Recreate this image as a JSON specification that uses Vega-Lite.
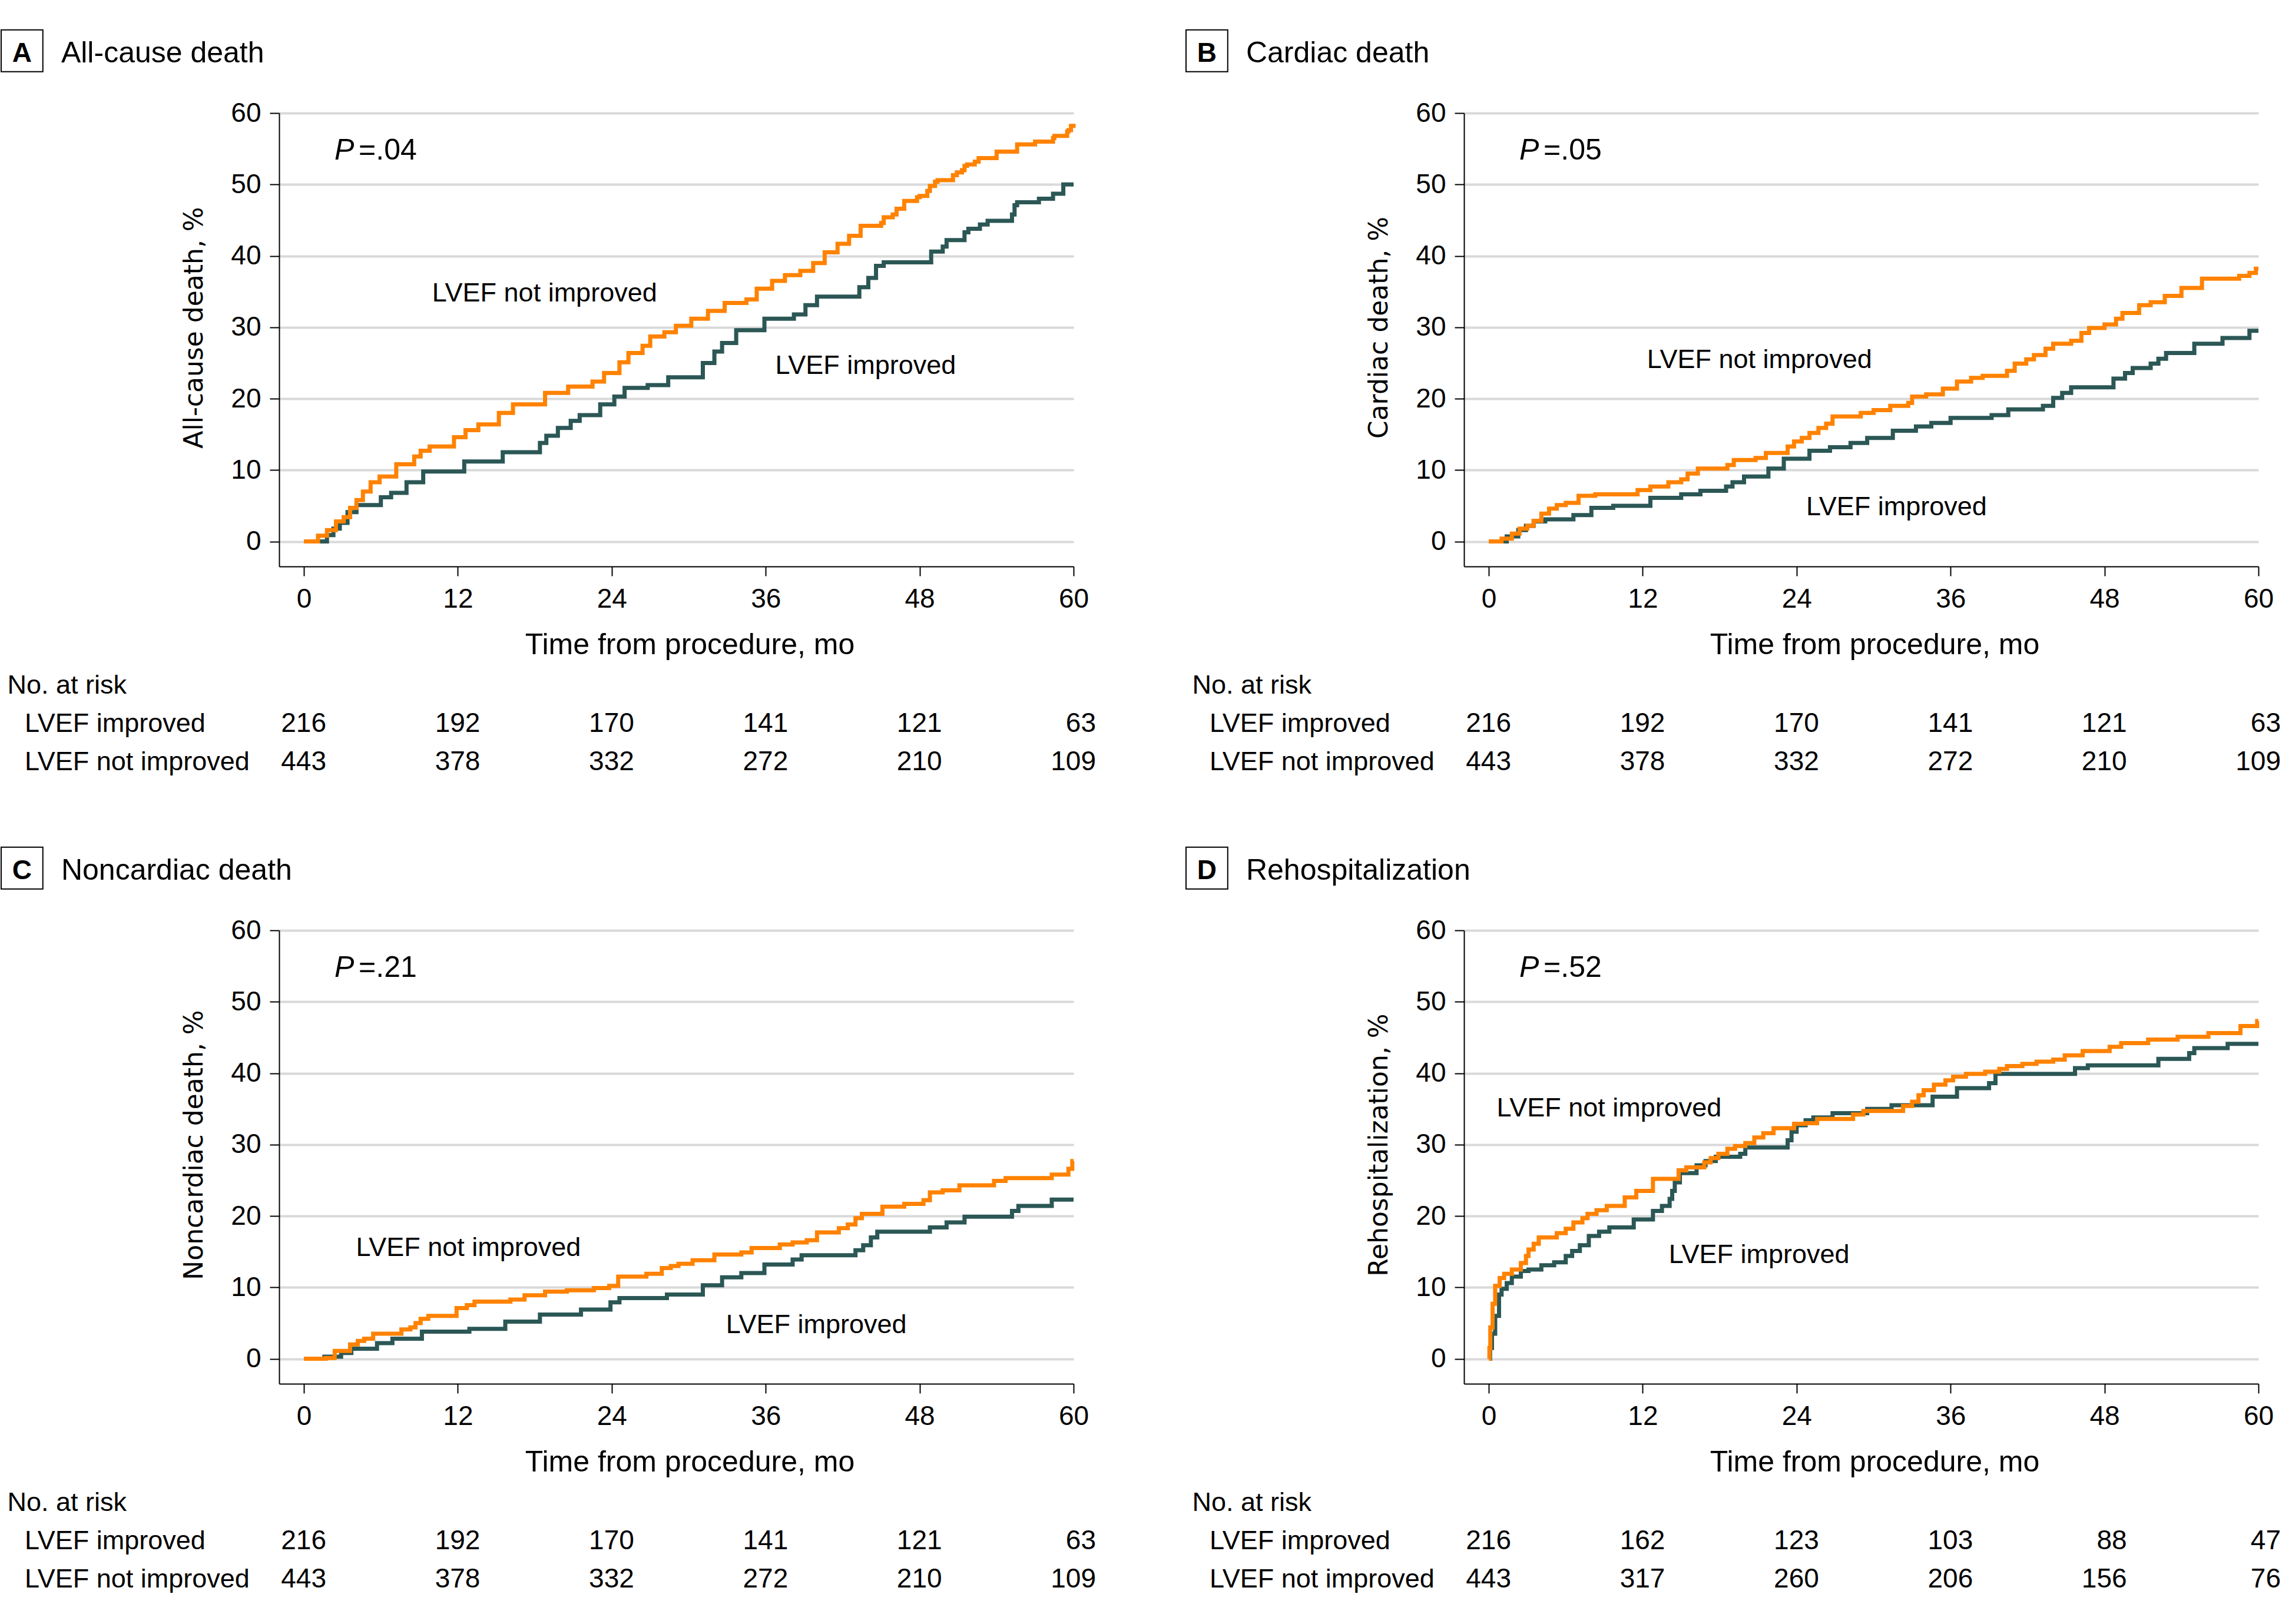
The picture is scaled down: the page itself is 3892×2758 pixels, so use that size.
{
  "$schema": "https://vega.github.io/schema/vega-lite/v6.json",
  "background": "white",
  "padding": {"left": 0, "top": 49, "right": 5, "bottom": 5},
  "columns": 2,
  "spacing": {"row": 618, "column": 663},
  "bounds": "flush",
  "datasets": {
    "A_improved": [
      {"month":0,"pct":0},{"month":1.8,"pct":0.9},{"month":2.3,"pct":1.8},{"month":2.8,"pct":2.6},{"month":3.4,"pct":4.1},{"month":4.1,"pct":5.1},{"month":6.0,"pct":6.2},{"month":6.8,"pct":6.8},{"month":8.0,"pct":8.3},{"month":9.3,"pct":9.8},{"month":12.5,"pct":11.2},{"month":15.5,"pct":12.5},{"month":18.4,"pct":13.8},{"month":18.9,"pct":14.8},{"month":19.8,"pct":15.9},{"month":20.8,"pct":16.9},{"month":21.5,"pct":17.7},{"month":23.1,"pct":19.2},{"month":24.2,"pct":20.3},{"month":25.0,"pct":21.5},{"month":26.8,"pct":21.9},{"month":28.4,"pct":23.0},{"month":31.1,"pct":25.0},{"month":32.0,"pct":26.6},{"month":32.6,"pct":27.8},{"month":33.7,"pct":29.6},{"month":35.9,"pct":31.2},{"month":38.2,"pct":31.8},{"month":39.1,"pct":33.1},{"month":40.0,"pct":34.3},{"month":43.3,"pct":35.6},{"month":44.0,"pct":36.9},{"month":44.6,"pct":38.6},{"month":45.2,"pct":39.1},{"month":48.9,"pct":40.6},{"month":49.8,"pct":41.3},{"month":50.1,"pct":42.2},{"month":51.5,"pct":43.3},{"month":51.8,"pct":43.8},{"month":52.7,"pct":44.4},{"month":53.3,"pct":44.9},{"month":55.2,"pct":45.8},{"month":55.4,"pct":47.1},{"month":55.6,"pct":47.5},{"month":57.3,"pct":48.0},{"month":58.4,"pct":48.7},{"month":59.2,"pct":50.0},{"month":60,"pct":50.0}
    ],
    "A_not_improved": [
      {"month":0,"pct":0},{"month":1.1,"pct":0.8},{"month":1.8,"pct":1.6},{"month":2.5,"pct":2.8},{"month":3.1,"pct":3.4},{"month":3.6,"pct":4.7},{"month":4.1,"pct":5.8},{"month":4.6,"pct":7.0},{"month":5.2,"pct":8.3},{"month":5.9,"pct":9.1},{"month":7.2,"pct":10.8},{"month":8.6,"pct":11.9},{"month":9.1,"pct":12.7},{"month":9.8,"pct":13.3},{"month":11.7,"pct":14.6},{"month":12.6,"pct":15.6},{"month":13.6,"pct":16.4},{"month":15.2,"pct":18.0},{"month":16.3,"pct":19.2},{"month":18.8,"pct":20.8},{"month":20.6,"pct":21.7},{"month":22.5,"pct":22.4},{"month":23.4,"pct":23.6},{"month":24.6,"pct":25.1},{"month":25.3,"pct":26.4},{"month":26.4,"pct":27.4},{"month":27.0,"pct":28.7},{"month":28.1,"pct":29.3},{"month":29.0,"pct":30.2},{"month":30.2,"pct":31.2},{"month":31.5,"pct":32.3},{"month":32.8,"pct":33.4},{"month":34.5,"pct":33.9},{"month":35.3,"pct":35.4},{"month":36.5,"pct":36.5},{"month":37.5,"pct":37.3},{"month":38.7,"pct":37.9},{"month":39.7,"pct":39.0},{"month":40.6,"pct":40.5},{"month":41.6,"pct":41.7},{"month":42.5,"pct":42.8},{"month":43.4,"pct":44.2},{"month":45.0,"pct":44.6},{"month":45.2,"pct":45.4},{"month":45.9,"pct":45.8},{"month":46.2,"pct":46.6},{"month":46.8,"pct":47.7},{"month":47.8,"pct":48.2},{"month":48.0,"pct":48.4},{"month":48.6,"pct":49.1},{"month":48.8,"pct":49.8},{"month":49.2,"pct":50.4},{"month":49.4,"pct":50.6},{"month":50.6,"pct":51.3},{"month":50.9,"pct":51.7},{"month":51.3,"pct":52.0},{"month":51.5,"pct":52.6},{"month":51.7,"pct":52.8},{"month":52.3,"pct":53.2},{"month":52.6,"pct":53.7},{"month":54.0,"pct":54.6},{"month":55.6,"pct":55.6},{"month":57.0,"pct":56.0},{"month":58.4,"pct":56.5},{"month":58.5,"pct":56.8},{"month":59.5,"pct":57.4},{"month":59.6,"pct":57.6},{"month":59.8,"pct":58.2},{"month":60,"pct":58.5}
    ],
    "B_improved": [
      {"month":0,"pct":0},{"month":1.4,"pct":0.7},{"month":2.3,"pct":1.6},{"month":2.9,"pct":2.2},{"month":3.5,"pct":2.8},{"month":4.4,"pct":3.1},{"month":6.6,"pct":3.7},{"month":8.0,"pct":4.7},{"month":9.7,"pct":5.0},{"month":12.6,"pct":6.1},{"month":15.0,"pct":6.6},{"month":16.5,"pct":7.1},{"month":18.5,"pct":7.7},{"month":19.0,"pct":8.3},{"month":19.9,"pct":9.1},{"month":21.8,"pct":10.2},{"month":23.0,"pct":11.6},{"month":25.0,"pct":12.7},{"month":26.6,"pct":13.2},{"month":28.2,"pct":13.8},{"month":29.5,"pct":14.5},{"month":31.5,"pct":15.5},{"month":33.3,"pct":16.1},{"month":34.5,"pct":16.6},{"month":36.0,"pct":17.3},{"month":39.2,"pct":17.7},{"month":40.5,"pct":18.5},{"month":43.2,"pct":19.0},{"month":44.0,"pct":20.1},{"month":44.7,"pct":20.8},{"month":45.4,"pct":21.6},{"month":48.7,"pct":22.8},{"month":49.6,"pct":23.6},{"month":50.2,"pct":24.3},{"month":51.6,"pct":24.9},{"month":52.2,"pct":25.6},{"month":52.8,"pct":26.4},{"month":55.0,"pct":27.7},{"month":57.2,"pct":28.5},{"month":59.3,"pct":29.5},{"month":60,"pct":29.5}
    ],
    "B_not_improved": [
      {"month":0,"pct":0},{"month":1.0,"pct":0.4},{"month":1.8,"pct":1.1},{"month":2.4,"pct":1.8},{"month":3.0,"pct":2.2},{"month":3.5,"pct":2.9},{"month":4.1,"pct":3.9},{"month":4.7,"pct":4.6},{"month":5.3,"pct":5.1},{"month":6.0,"pct":5.4},{"month":7.0,"pct":6.4},{"month":8.3,"pct":6.6},{"month":11.6,"pct":7.2},{"month":12.6,"pct":7.7},{"month":14.0,"pct":8.3},{"month":15.0,"pct":8.7},{"month":15.5,"pct":9.5},{"month":16.3,"pct":10.2},{"month":18.6,"pct":10.7},{"month":19.1,"pct":11.4},{"month":20.8,"pct":11.7},{"month":21.6,"pct":12.4},{"month":23.3,"pct":13.3},{"month":23.8,"pct":14.0},{"month":24.4,"pct":14.5},{"month":25.0,"pct":15.2},{"month":25.7,"pct":15.9},{"month":26.3,"pct":16.5},{"month":26.8,"pct":17.5},{"month":29.0,"pct":18.0},{"month":30.0,"pct":18.4},{"month":31.3,"pct":19.0},{"month":32.7,"pct":19.4},{"month":33.0,"pct":20.3},{"month":34.1,"pct":20.6},{"month":35.4,"pct":21.4},{"month":36.5,"pct":22.4},{"month":37.6,"pct":22.9},{"month":38.5,"pct":23.2},{"month":40.4,"pct":23.9},{"month":41.0,"pct":24.9},{"month":41.9,"pct":25.5},{"month":42.5,"pct":26.1},{"month":43.4,"pct":27.0},{"month":44.0,"pct":27.7},{"month":45.4,"pct":28.1},{"month":46.2,"pct":29.2},{"month":46.8,"pct":29.9},{"month":48.0,"pct":30.4},{"month":48.9,"pct":31.2},{"month":49.4,"pct":32.0},{"month":50.7,"pct":33.1},{"month":51.6,"pct":33.5},{"month":52.7,"pct":34.4},{"month":54.0,"pct":35.5},{"month":55.6,"pct":36.8},{"month":58.5,"pct":37.2},{"month":59.3,"pct":37.6},{"month":59.8,"pct":38.2},{"month":60,"pct":38.2}
    ],
    "C_improved": [
      {"month":0,"pct":0},{"month":1.6,"pct":0.3},{"month":2.9,"pct":0.8},{"month":3.7,"pct":1.4},{"month":5.7,"pct":2.2},{"month":6.9,"pct":2.8},{"month":9.2,"pct":3.8},{"month":12.9,"pct":4.2},{"month":15.7,"pct":5.2},{"month":18.4,"pct":6.2},{"month":21.6,"pct":6.9},{"month":23.9,"pct":7.9},{"month":24.6,"pct":8.5},{"month":28.3,"pct":9.0},{"month":31.1,"pct":10.3},{"month":32.6,"pct":11.4},{"month":34.1,"pct":12.0},{"month":35.9,"pct":13.2},{"month":38.1,"pct":13.9},{"month":38.8,"pct":14.5},{"month":43.0,"pct":15.2},{"month":43.6,"pct":15.9},{"month":44.2,"pct":17.0},{"month":44.7,"pct":17.8},{"month":48.8,"pct":18.4},{"month":50.1,"pct":19.1},{"month":51.5,"pct":19.9},{"month":55.2,"pct":20.7},{"month":55.7,"pct":21.4},{"month":58.3,"pct":22.3},{"month":60,"pct":22.3}
    ],
    "C_not_improved": [
      {"month":0,"pct":0},{"month":1.7,"pct":0.1},{"month":2.4,"pct":1.1},{"month":3.6,"pct":2.0},{"month":4.2,"pct":2.5},{"month":4.7,"pct":2.8},{"month":5.4,"pct":3.5},{"month":7.6,"pct":4.1},{"month":8.3,"pct":4.4},{"month":8.7,"pct":5.0},{"month":9.1,"pct":5.6},{"month":9.7,"pct":6.0},{"month":11.9,"pct":7.1},{"month":12.7,"pct":7.5},{"month":13.3,"pct":8.0},{"month":16.1,"pct":8.3},{"month":17.2,"pct":8.9},{"month":18.8,"pct":9.4},{"month":20.5,"pct":9.6},{"month":22.6,"pct":9.9},{"month":23.8,"pct":10.2},{"month":24.5,"pct":11.5},{"month":26.7,"pct":11.9},{"month":27.9,"pct":12.7},{"month":28.6,"pct":13.0},{"month":29.2,"pct":13.3},{"month":30.3,"pct":13.8},{"month":32.0,"pct":14.6},{"month":34.1,"pct":14.9},{"month":34.9,"pct":15.5},{"month":37.1,"pct":16.0},{"month":38.1,"pct":16.3},{"month":39.2,"pct":16.6},{"month":40.0,"pct":17.7},{"month":41.7,"pct":18.3},{"month":42.4,"pct":18.8},{"month":43.0,"pct":19.7},{"month":43.5,"pct":20.3},{"month":45.1,"pct":21.3},{"month":46.8,"pct":21.7},{"month":48.3,"pct":22.2},{"month":48.8,"pct":23.3},{"month":49.8,"pct":23.6},{"month":51.1,"pct":24.3},{"month":53.8,"pct":24.9},{"month":54.7,"pct":25.3},{"month":58.3,"pct":25.8},{"month":59.6,"pct":26.6},{"month":59.9,"pct":27.7},{"month":60,"pct":27.7}
    ],
    "D_improved": [
      {"month":0,"pct":0},{"month":0.1,"pct":1.5},{"month":0.25,"pct":3.5},{"month":0.5,"pct":6.0},{"month":0.8,"pct":9.0},{"month":1.0,"pct":9.8},{"month":1.4,"pct":10.6},{"month":1.8,"pct":11.5},{"month":2.5,"pct":12.3},{"month":3.1,"pct":12.5},{"month":4.1,"pct":13.1},{"month":5.1,"pct":13.5},{"month":6.0,"pct":14.4},{"month":6.5,"pct":15.1},{"month":7.1,"pct":15.9},{"month":7.8,"pct":17.2},{"month":8.6,"pct":17.8},{"month":9.4,"pct":18.4},{"month":11.3,"pct":19.5},{"month":12.8,"pct":20.7},{"month":13.5,"pct":21.4},{"month":14.1,"pct":22.4},{"month":14.3,"pct":23.5},{"month":14.5,"pct":24.7},{"month":14.9,"pct":26.0},{"month":16.2,"pct":27.1},{"month":16.9,"pct":27.7},{"month":17.7,"pct":28.3},{"month":19.6,"pct":28.7},{"month":20.0,"pct":29.6},{"month":23.3,"pct":30.6},{"month":23.6,"pct":31.8},{"month":24.0,"pct":32.7},{"month":24.7,"pct":33.4},{"month":25.3,"pct":33.8},{"month":26.8,"pct":34.4},{"month":29.5,"pct":35.0},{"month":31.4,"pct":35.5},{"month":34.6,"pct":36.7},{"month":36.5,"pct":37.9},{"month":39.0,"pct":38.6},{"month":39.5,"pct":39.9},{"month":45.7,"pct":40.7},{"month":46.7,"pct":41.1},{"month":52.2,"pct":42.0},{"month":54.6,"pct":42.8},{"month":55.0,"pct":43.5},{"month":57.6,"pct":44.1},{"month":60,"pct":44.1}
    ],
    "D_not_improved": [
      {"month":0,"pct":0},{"month":0.05,"pct":1.5},{"month":0.12,"pct":4.4},{"month":0.3,"pct":7.7},{"month":0.5,"pct":10.2},{"month":0.85,"pct":11.3},{"month":1.2,"pct":11.9},{"month":1.8,"pct":12.5},{"month":2.5,"pct":13.4},{"month":2.9,"pct":14.4},{"month":3.1,"pct":15.3},{"month":3.5,"pct":16.1},{"month":3.9,"pct":17.0},{"month":5.3,"pct":17.6},{"month":6.0,"pct":18.2},{"month":6.6,"pct":19.1},{"month":7.3,"pct":19.7},{"month":7.7,"pct":20.3},{"month":8.4,"pct":20.8},{"month":9.2,"pct":21.4},{"month":10.6,"pct":22.6},{"month":11.5,"pct":23.5},{"month":12.8,"pct":25.2},{"month":14.8,"pct":26.4},{"month":15.4,"pct":26.8},{"month":16.8,"pct":27.5},{"month":17.3,"pct":28.1},{"month":17.9,"pct":28.7},{"month":18.6,"pct":29.4},{"month":19.2,"pct":29.8},{"month":20.0,"pct":30.2},{"month":20.7,"pct":31.0},{"month":21.4,"pct":31.6},{"month":22.2,"pct":32.3},{"month":23.8,"pct":32.9},{"month":24.7,"pct":33.0},{"month":25.6,"pct":33.6},{"month":28.4,"pct":34.2},{"month":29.2,"pct":34.7},{"month":32.3,"pct":35.4},{"month":33.0,"pct":36.0},{"month":33.5,"pct":36.9},{"month":33.9,"pct":37.6},{"month":34.7,"pct":38.4},{"month":35.6,"pct":39.0},{"month":36.2,"pct":39.5},{"month":37.2,"pct":39.9},{"month":38.7,"pct":40.2},{"month":39.8,"pct":40.6},{"month":40.4,"pct":41.0},{"month":41.6,"pct":41.3},{"month":42.7,"pct":41.6},{"month":44.0,"pct":41.9},{"month":44.9,"pct":42.5},{"month":46.3,"pct":43.1},{"month":48.4,"pct":43.7},{"month":49.3,"pct":44.2},{"month":51.4,"pct":44.7},{"month":53.7,"pct":45.1},{"month":56.1,"pct":45.6},{"month":58.6,"pct":46.6},{"month":59.9,"pct":47.3},{"month":60,"pct":47.3}
    ],
    "risk_ABC": [
      {"month":0,"improved":216,"not_improved":443},{"month":12,"improved":192,"not_improved":378},{"month":24,"improved":170,"not_improved":332},{"month":36,"improved":141,"not_improved":272},{"month":48,"improved":121,"not_improved":210},{"month":60,"improved":63,"not_improved":109}
    ],
    "risk_D": [
      {"month":0,"improved":216,"not_improved":443},{"month":12,"improved":162,"not_improved":317},{"month":24,"improved":123,"not_improved":260},{"month":36,"improved":103,"not_improved":206},{"month":48,"improved":88,"not_improved":156},{"month":60,"improved":47,"not_improved":76}
    ]
  },
  "concat": [
    {
      "width": 1349, "height": 770,
      "data": {"values": [{}]},
      "layer": [
        {"data": {"name": "A_improved"}, "mark": {"type": "line", "interpolate": "step-after", "strokeWidth": 7, "color": "#2b5755"},
         "encoding": {
           "x": {"field": "month", "type": "quantitative", "scale": {"domain": [-1.93, 60], "nice": false, "zero": false}, "axis": {"values": [0,12,24,36,48,60], "title": "Time from procedure, mo"}},
           "y": {"field": "pct", "type": "quantitative", "scale": {"domain": [-3.5, 60], "nice": false, "zero": false}, "axis": {"values": [0,10,20,30,40,50,60], "title": "All-cause death, %"}}}},
        {"data": {"name": "A_not_improved"}, "mark": {"type": "line", "interpolate": "step-after", "strokeWidth": 7, "color": "#ff8200"},
         "encoding": {"x": {"field": "month", "type": "quantitative"}, "y": {"field": "pct", "type": "quantitative"}}},
        {"mark": {"type": "rect", "fill": "white", "stroke": "black", "strokeWidth": 2}, "encoding": {"x": {"datum": -23.6}, "x2": {"datum": -20.35}, "y": {"datum": 71.65}, "y2": {"datum": 65.8}}},
        {"mark": {"type": "text", "text": "A", "align": "center", "baseline": "alphabetic", "fontSize": 46, "fontWeight": "bold"}, "encoding": {"x": {"datum": -21.97}, "y": {"datum": 67.2}}},
        {"mark": {"type": "text", "text": "All-cause death", "align": "left", "baseline": "alphabetic", "fontSize": 50}, "encoding": {"x": {"datum": -18.92}, "y": {"datum": 67.1}}},
        {"mark": {"type": "text", "text": "P", "align": "left", "baseline": "alphabetic", "fontSize": 50, "fontStyle": "italic"}, "encoding": {"x": {"datum": 2.39}, "y": {"datum": 53.5}}},
        {"mark": {"type": "text", "text": "=.04", "align": "left", "baseline": "alphabetic", "fontSize": 50}, "encoding": {"x": {"datum": 4.27}, "y": {"datum": 53.5}}},
        {"mark": {"type": "text", "text": "LVEF not improved", "align": "left", "baseline": "alphabetic", "fontSize": 45}, "encoding": {"x": {"datum": 10.0}, "y": {"datum": 33.6}}},
        {"mark": {"type": "text", "text": "LVEF improved", "align": "left", "baseline": "alphabetic", "fontSize": 45}, "encoding": {"x": {"datum": 36.75}, "y": {"datum": 23.5}}},
        {"mark": {"type": "text", "text": "No. at risk", "align": "left", "baseline": "alphabetic", "fontSize": 45}, "encoding": {"x": {"datum": -23.12}, "y": {"datum": -21.3}}},
        {"mark": {"type": "text", "text": "LVEF improved", "align": "left", "baseline": "alphabetic", "fontSize": 45}, "encoding": {"x": {"datum": -21.76}, "y": {"datum": -26.7}}},
        {"mark": {"type": "text", "text": "LVEF not improved", "align": "left", "baseline": "alphabetic", "fontSize": 45}, "encoding": {"x": {"datum": -21.76}, "y": {"datum": -32.05}}},
        {"data": {"name": "risk_ABC"}, "mark": {"type": "text", "align": "right", "baseline": "alphabetic", "fontSize": 46, "dx": 38}, "encoding": {"x": {"field": "month", "type": "quantitative"}, "y": {"datum": -26.7}, "text": {"field": "improved", "type": "nominal"}}},
        {"data": {"name": "risk_ABC"}, "mark": {"type": "text", "align": "right", "baseline": "alphabetic", "fontSize": 46, "dx": 38}, "encoding": {"x": {"field": "month", "type": "quantitative"}, "y": {"datum": -32.05}, "text": {"field": "not_improved", "type": "nominal"}}}
      ]
    },
    {
      "width": 1349, "height": 770,
      "data": {"values": [{}]},
      "layer": [
        {"data": {"name": "B_improved"}, "mark": {"type": "line", "interpolate": "step-after", "strokeWidth": 7, "color": "#2b5755"},
         "encoding": {
           "x": {"field": "month", "type": "quantitative", "scale": {"domain": [-1.93, 60], "nice": false, "zero": false}, "axis": {"values": [0,12,24,36,48,60], "title": "Time from procedure, mo"}},
           "y": {"field": "pct", "type": "quantitative", "scale": {"domain": [-3.5, 60], "nice": false, "zero": false}, "axis": {"values": [0,10,20,30,40,50,60], "title": "Cardiac death, %"}}}},
        {"data": {"name": "B_not_improved"}, "mark": {"type": "line", "interpolate": "step-after", "strokeWidth": 7, "color": "#ff8200"},
         "encoding": {"x": {"field": "month", "type": "quantitative"}, "y": {"field": "pct", "type": "quantitative"}}},
        {"mark": {"type": "rect", "fill": "white", "stroke": "black", "strokeWidth": 2}, "encoding": {"x": {"datum": -23.6}, "x2": {"datum": -20.35}, "y": {"datum": 71.65}, "y2": {"datum": 65.8}}},
        {"mark": {"type": "text", "text": "B", "align": "center", "baseline": "alphabetic", "fontSize": 46, "fontWeight": "bold"}, "encoding": {"x": {"datum": -21.97}, "y": {"datum": 67.2}}},
        {"mark": {"type": "text", "text": "Cardiac death", "align": "left", "baseline": "alphabetic", "fontSize": 50}, "encoding": {"x": {"datum": -18.92}, "y": {"datum": 67.1}}},
        {"mark": {"type": "text", "text": "P", "align": "left", "baseline": "alphabetic", "fontSize": 50, "fontStyle": "italic"}, "encoding": {"x": {"datum": 2.39}, "y": {"datum": 53.5}}},
        {"mark": {"type": "text", "text": "=.05", "align": "left", "baseline": "alphabetic", "fontSize": 50}, "encoding": {"x": {"datum": 4.27}, "y": {"datum": 53.5}}},
        {"mark": {"type": "text", "text": "LVEF not improved", "align": "left", "baseline": "alphabetic", "fontSize": 45}, "encoding": {"x": {"datum": 12.34}, "y": {"datum": 24.3}}},
        {"mark": {"type": "text", "text": "LVEF improved", "align": "left", "baseline": "alphabetic", "fontSize": 45}, "encoding": {"x": {"datum": 24.74}, "y": {"datum": 3.68}}},
        {"mark": {"type": "text", "text": "No. at risk", "align": "left", "baseline": "alphabetic", "fontSize": 45}, "encoding": {"x": {"datum": -23.12}, "y": {"datum": -21.3}}},
        {"mark": {"type": "text", "text": "LVEF improved", "align": "left", "baseline": "alphabetic", "fontSize": 45}, "encoding": {"x": {"datum": -21.76}, "y": {"datum": -26.7}}},
        {"mark": {"type": "text", "text": "LVEF not improved", "align": "left", "baseline": "alphabetic", "fontSize": 45}, "encoding": {"x": {"datum": -21.76}, "y": {"datum": -32.05}}},
        {"data": {"name": "risk_ABC"}, "mark": {"type": "text", "align": "right", "baseline": "alphabetic", "fontSize": 46, "dx": 38}, "encoding": {"x": {"field": "month", "type": "quantitative"}, "y": {"datum": -26.7}, "text": {"field": "improved", "type": "nominal"}}},
        {"data": {"name": "risk_ABC"}, "mark": {"type": "text", "align": "right", "baseline": "alphabetic", "fontSize": 46, "dx": 38}, "encoding": {"x": {"field": "month", "type": "quantitative"}, "y": {"datum": -32.05}, "text": {"field": "not_improved", "type": "nominal"}}}
      ]
    },
    {
      "width": 1349, "height": 770,
      "data": {"values": [{}]},
      "layer": [
        {"data": {"name": "C_improved"}, "mark": {"type": "line", "interpolate": "step-after", "strokeWidth": 7, "color": "#2b5755"},
         "encoding": {
           "x": {"field": "month", "type": "quantitative", "scale": {"domain": [-1.93, 60], "nice": false, "zero": false}, "axis": {"values": [0,12,24,36,48,60], "title": "Time from procedure, mo"}},
           "y": {"field": "pct", "type": "quantitative", "scale": {"domain": [-3.5, 60], "nice": false, "zero": false}, "axis": {"values": [0,10,20,30,40,50,60], "title": "Noncardiac death, %"}}}},
        {"data": {"name": "C_not_improved"}, "mark": {"type": "line", "interpolate": "step-after", "strokeWidth": 7, "color": "#ff8200"},
         "encoding": {"x": {"field": "month", "type": "quantitative"}, "y": {"field": "pct", "type": "quantitative"}}},
        {"mark": {"type": "rect", "fill": "white", "stroke": "black", "strokeWidth": 2}, "encoding": {"x": {"datum": -23.6}, "x2": {"datum": -20.35}, "y": {"datum": 71.65}, "y2": {"datum": 65.8}}},
        {"mark": {"type": "text", "text": "C", "align": "center", "baseline": "alphabetic", "fontSize": 46, "fontWeight": "bold"}, "encoding": {"x": {"datum": -21.97}, "y": {"datum": 67.2}}},
        {"mark": {"type": "text", "text": "Noncardiac death", "align": "left", "baseline": "alphabetic", "fontSize": 50}, "encoding": {"x": {"datum": -18.92}, "y": {"datum": 67.1}}},
        {"mark": {"type": "text", "text": "P", "align": "left", "baseline": "alphabetic", "fontSize": 50, "fontStyle": "italic"}, "encoding": {"x": {"datum": 2.39}, "y": {"datum": 53.5}}},
        {"mark": {"type": "text", "text": "=.21", "align": "left", "baseline": "alphabetic", "fontSize": 50}, "encoding": {"x": {"datum": 4.27}, "y": {"datum": 53.5}}},
        {"mark": {"type": "text", "text": "LVEF not improved", "align": "left", "baseline": "alphabetic", "fontSize": 45}, "encoding": {"x": {"datum": 4.06}, "y": {"datum": 14.4}}},
        {"mark": {"type": "text", "text": "LVEF improved", "align": "left", "baseline": "alphabetic", "fontSize": 45}, "encoding": {"x": {"datum": 32.9}, "y": {"datum": 3.57}}},
        {"mark": {"type": "text", "text": "No. at risk", "align": "left", "baseline": "alphabetic", "fontSize": 45}, "encoding": {"x": {"datum": -23.12}, "y": {"datum": -21.3}}},
        {"mark": {"type": "text", "text": "LVEF improved", "align": "left", "baseline": "alphabetic", "fontSize": 45}, "encoding": {"x": {"datum": -21.76}, "y": {"datum": -26.7}}},
        {"mark": {"type": "text", "text": "LVEF not improved", "align": "left", "baseline": "alphabetic", "fontSize": 45}, "encoding": {"x": {"datum": -21.76}, "y": {"datum": -32.05}}},
        {"data": {"name": "risk_ABC"}, "mark": {"type": "text", "align": "right", "baseline": "alphabetic", "fontSize": 46, "dx": 38}, "encoding": {"x": {"field": "month", "type": "quantitative"}, "y": {"datum": -26.7}, "text": {"field": "improved", "type": "nominal"}}},
        {"data": {"name": "risk_ABC"}, "mark": {"type": "text", "align": "right", "baseline": "alphabetic", "fontSize": 46, "dx": 38}, "encoding": {"x": {"field": "month", "type": "quantitative"}, "y": {"datum": -32.05}, "text": {"field": "not_improved", "type": "nominal"}}}
      ]
    },
    {
      "width": 1349, "height": 770,
      "data": {"values": [{}]},
      "layer": [
        {"data": {"name": "D_improved"}, "mark": {"type": "line", "interpolate": "step-after", "strokeWidth": 7, "color": "#2b5755"},
         "encoding": {
           "x": {"field": "month", "type": "quantitative", "scale": {"domain": [-1.93, 60], "nice": false, "zero": false}, "axis": {"values": [0,12,24,36,48,60], "title": "Time from procedure, mo"}},
           "y": {"field": "pct", "type": "quantitative", "scale": {"domain": [-3.5, 60], "nice": false, "zero": false}, "axis": {"values": [0,10,20,30,40,50,60], "title": "Rehospitalization, %"}}}},
        {"data": {"name": "D_not_improved"}, "mark": {"type": "line", "interpolate": "step-after", "strokeWidth": 7, "color": "#ff8200"},
         "encoding": {"x": {"field": "month", "type": "quantitative"}, "y": {"field": "pct", "type": "quantitative"}}},
        {"mark": {"type": "rect", "fill": "white", "stroke": "black", "strokeWidth": 2}, "encoding": {"x": {"datum": -23.6}, "x2": {"datum": -20.35}, "y": {"datum": 71.65}, "y2": {"datum": 65.8}}},
        {"mark": {"type": "text", "text": "D", "align": "center", "baseline": "alphabetic", "fontSize": 46, "fontWeight": "bold"}, "encoding": {"x": {"datum": -21.97}, "y": {"datum": 67.2}}},
        {"mark": {"type": "text", "text": "Rehospitalization", "align": "left", "baseline": "alphabetic", "fontSize": 50}, "encoding": {"x": {"datum": -18.92}, "y": {"datum": 67.1}}},
        {"mark": {"type": "text", "text": "P", "align": "left", "baseline": "alphabetic", "fontSize": 50, "fontStyle": "italic"}, "encoding": {"x": {"datum": 2.39}, "y": {"datum": 53.5}}},
        {"mark": {"type": "text", "text": "=.52", "align": "left", "baseline": "alphabetic", "fontSize": 50}, "encoding": {"x": {"datum": 4.27}, "y": {"datum": 53.5}}},
        {"mark": {"type": "text", "text": "LVEF not improved", "align": "left", "baseline": "alphabetic", "fontSize": 45}, "encoding": {"x": {"datum": 0.62}, "y": {"datum": 33.98}}},
        {"mark": {"type": "text", "text": "LVEF improved", "align": "left", "baseline": "alphabetic", "fontSize": 45}, "encoding": {"x": {"datum": 14.04}, "y": {"datum": 13.37}}},
        {"mark": {"type": "text", "text": "No. at risk", "align": "left", "baseline": "alphabetic", "fontSize": 45}, "encoding": {"x": {"datum": -23.12}, "y": {"datum": -21.3}}},
        {"mark": {"type": "text", "text": "LVEF improved", "align": "left", "baseline": "alphabetic", "fontSize": 45}, "encoding": {"x": {"datum": -21.76}, "y": {"datum": -26.7}}},
        {"mark": {"type": "text", "text": "LVEF not improved", "align": "left", "baseline": "alphabetic", "fontSize": 45}, "encoding": {"x": {"datum": -21.76}, "y": {"datum": -32.05}}},
        {"data": {"name": "risk_D"}, "mark": {"type": "text", "align": "right", "baseline": "alphabetic", "fontSize": 46, "dx": 38}, "encoding": {"x": {"field": "month", "type": "quantitative"}, "y": {"datum": -26.7}, "text": {"field": "improved", "type": "nominal"}}},
        {"data": {"name": "risk_D"}, "mark": {"type": "text", "align": "right", "baseline": "alphabetic", "fontSize": 46, "dx": 38}, "encoding": {"x": {"field": "month", "type": "quantitative"}, "y": {"datum": -32.05}, "text": {"field": "not_improved", "type": "nominal"}}}
      ]
    }
  ],
  "config": {
    "view": {"stroke": null},
    "font": "Liberation Sans",
    "text": {"font": "Liberation Sans", "color": "black"},
    "axis": {
      "domainColor": "black", "domainWidth": 2,
      "tickColor": "black", "tickWidth": 2, "tickSize": 16,
      "labelFont": "Liberation Sans", "labelFontSize": 46, "labelColor": "black",
      "labelFlush": false, "labelOverlap": false, "labelBound": false,
      "titleFont": "Liberation Sans", "titleFontSize": 50, "titleFontWeight": "normal", "titleColor": "black",
      "grid": false
    },
    "axisX": {
      "labelBaseline": "alphabetic", "labelPadding": 53,
      "titleX": 697, "titleY": 148, "titleBaseline": "alphabetic", "titleAlign": "center"
    },
    "axisY": {
      "grid": true, "gridColor": "#d9d9d9", "gridWidth": 4,
      "labelPadding": 15,
      "titleFont": "DejaVu Sans", "titleFontSize": 44,
      "titleX": -131, "titleY": 364, "titleAngle": 270, "titleBaseline": "alphabetic", "titleAlign": "center"
    }
  }
}
